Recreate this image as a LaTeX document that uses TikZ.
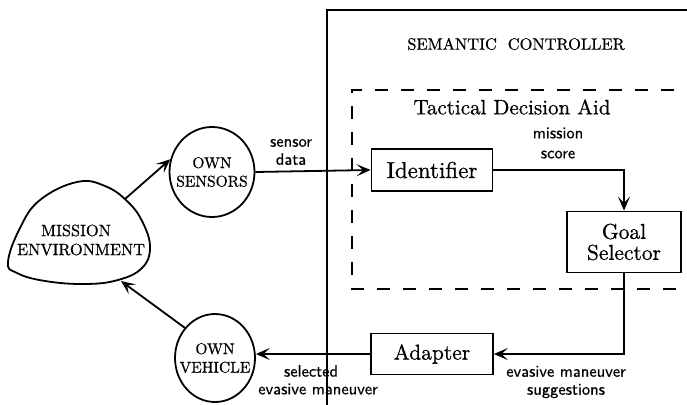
\documentclass[tikz,border=0pt]{standalone}
\usepackage{fontspec}
\setmainfont{lmroman10-regular.otf}[FakeBold=0.7]
\setsansfont{lmsans10-regular.otf}[FakeBold=0.6]
\usetikzlibrary{arrows.meta,shapes.geometric}
\begin{document}
\begin{tikzpicture}[x=1pt,y=-1pt,
  line width=1.8pt,
  arr/.style={-{Stealth[length=14pt,width=12pt,inset=6.5pt]}},
  block/.style={draw, rectangle, inner sep=0pt, align=center},
  orb/.style={draw, ellipse, inner sep=0pt},
  captext/.style={font=\fontsize{15.5}{18.5}\selectfont, align=center, inner sep=0pt},
  lbl/.style={font=\sffamily\fontsize{16.5}{18}\selectfont, align=center, inner sep=0pt},
  dashbox/.style={line width=2.3pt, dash pattern=on 13pt off 13pt},
]
\useasboundingbox (0,0) rectangle (687,404);
\clip (0,0) rectangle (687,404);

% semantic controller frame (open to the right and below)
\draw (700,10) -- (327,10) -- (327,420);
\node[font=\fontsize{16.4}{18}\selectfont] (title) at (516,44) {SEMANTIC\ \ CONTROLLER};

% tactical decision aid frame
\draw[dashbox] (700,90) -- (352,90) -- (352,289) -- (700,289);
\node[font=\fontsize{21}{24}\selectfont] (tda) at (512,107) {Tactical Decision Aid};

% blocks
\node[block, minimum width=121pt, minimum height=42pt, font=\fontsize{23}{24}\selectfont] (ident) at (432,170) {Identifier};
\node[block, minimum width=114pt, minimum height=61pt, font=\fontsize{21.5}{21}\selectfont] (goal) at (624,242) {Goal\\Selector};
\node[block, minimum width=122pt, minimum height=41pt, font=\fontsize{21.5}{24}\selectfont] (adapt) at (432,354) {Adapter};

% own sensors / own vehicle
\node[orb, minimum width=85pt, minimum height=90pt] (sens) at (212,172) {};
\node[captext] (senstext) at (sens.center) {OWN\\SENSORS};
\node[orb, minimum width=80pt, minimum height=88pt] (veh) at (215,358) {};
\node[captext] (vehtext) at (veh.center) {OWN\\VEHICLE};

% mission environment blob
\draw plot[smooth cycle, tension=0.7] coordinates {
  (8,262) (20,228) (40,200) (77,182) (105,186) (128,202)
  (143,223) (150,248) (142,268) (118,280) (85,284) (45,281) (17,273)};
\node[font=\fontsize{16.3}{19}\selectfont, align=center, inner sep=0pt] (env) at (81,240) {MISSION\hspace*{10pt}\\ENVIRONMENT};
\coordinate (envA) at (125,199);
\coordinate (envB) at (121,281);

% connectors
\draw[arr] (envA) -- (sens.163);
\draw[arr] (veh.135) -- (envB);
\draw[arr] (sens.east) -- (ident.west);
\draw[arr] (ident.east) -| (goal.north);
\draw[arr] (goal.south) |- (adapt.east);
\draw[arr] (adapt.west) -- (adapt.west -| veh.east);

% connector labels
\node[lbl] (ldata) at (291,152) {sensor\\data};
\node[lbl, font=\sffamily\fontsize{16.5}{20}\selectfont] (lscore) at (558,143) {mission\\score};
\node[lbl] (lsugg) at (566,382) {evasive maneuver\\suggestions};
\node[lbl] (lsel) at (311,371) {selected};
\node[lbl] (lman) at (318,389) {evasive maneuver};
\end{tikzpicture}
\end{document}
